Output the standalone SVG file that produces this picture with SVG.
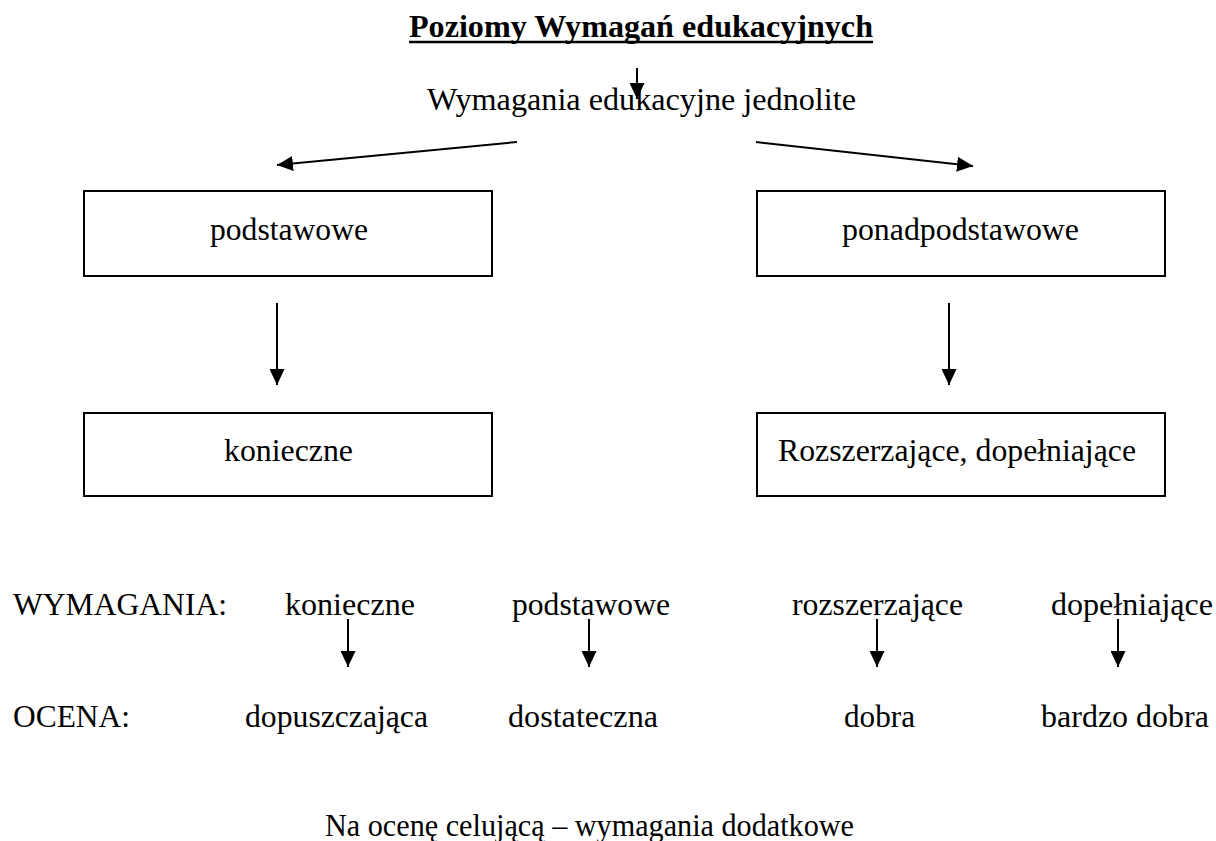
<svg xmlns="http://www.w3.org/2000/svg" width="1216" height="841" viewBox="0 0 1216 841">
<defs>
<style>
text{font-family:"Liberation Serif","Times New Roman",serif;font-size:31px;fill:#000}
.title{font-weight:bold}
.box{fill:#fff;stroke:#000;stroke-width:2}
.conn line{stroke:#000;stroke-width:2;marker-end:url(#ah)}
</style>
<marker id="ah" markerUnits="userSpaceOnUse" markerWidth="16" markerHeight="15" refX="16" refY="7.5" orient="auto" viewBox="0 0 16 15">
<path d="M0,0 L16,7.5 L0,15 z" fill="#000"/>
</marker>
</defs>
<rect width="1216" height="841" fill="#fff"/>
<g id="title">
<text class="title" x="409" y="37" textLength="464" lengthAdjust="spacingAndGlyphs">Poziomy Wymagań edukacyjnych</text>
<line x1="409" y1="42" x2="873" y2="42" stroke="#000" stroke-width="2.5"/>
</g>
<g id="root"><text x="427" y="110" textLength="429" lengthAdjust="spacingAndGlyphs">Wymagania edukacyjne jednolite</text></g>
<g id="podstawowe-box"><rect class="box" x="84" y="191" width="408" height="85"/><text x="210" y="240" textLength="158" lengthAdjust="spacingAndGlyphs">podstawowe</text></g>
<g id="ponadpodstawowe-box"><rect class="box" x="757" y="191" width="408" height="85"/><text x="842" y="240" textLength="237" lengthAdjust="spacingAndGlyphs">ponadpodstawowe</text></g>
<g id="konieczne-box"><rect class="box" x="84" y="413" width="408" height="83"/><text x="224" y="461" textLength="129" lengthAdjust="spacingAndGlyphs">konieczne</text></g>
<g id="rozszerzajace-box"><rect class="box" x="757" y="413" width="408" height="83"/><text x="778" y="461" textLength="358" lengthAdjust="spacingAndGlyphs">Rozszerzające, dopełniające</text></g>
<g id="row-wymagania">
<text x="13" y="615" textLength="214" lengthAdjust="spacingAndGlyphs">WYMAGANIA:</text>
<text x="285" y="615" textLength="130" lengthAdjust="spacingAndGlyphs">konieczne</text>
<text x="512" y="615" textLength="158" lengthAdjust="spacingAndGlyphs">podstawowe</text>
<text x="792" y="615" textLength="171" lengthAdjust="spacingAndGlyphs">rozszerzające</text>
<text x="1051" y="615" textLength="162" lengthAdjust="spacingAndGlyphs">dopełniające</text>
</g>
<g id="row-ocena">
<text x="13" y="727" textLength="117" lengthAdjust="spacingAndGlyphs">OCENA:</text>
<text x="245" y="727" textLength="183" lengthAdjust="spacingAndGlyphs">dopuszczająca</text>
<text x="508" y="727" textLength="150" lengthAdjust="spacingAndGlyphs">dostateczna</text>
<text x="844" y="727" textLength="71" lengthAdjust="spacingAndGlyphs">dobra</text>
<text x="1041" y="727" textLength="168" lengthAdjust="spacingAndGlyphs">bardzo dobra</text>
</g>
<g id="note"><text x="325" y="836" textLength="529" lengthAdjust="spacingAndGlyphs">Na ocenę celującą – wymagania dodatkowe</text></g>
<g id="connectors" class="conn">
<line x1="637" y1="68" x2="637" y2="99"/>
<line x1="517" y1="142" x2="277" y2="165"/>
<line x1="756" y1="142" x2="973" y2="166"/>
<line x1="277" y1="303" x2="277" y2="385"/>
<line x1="949" y1="303" x2="949" y2="385"/>
<line x1="348" y1="619" x2="348" y2="667"/>
<line x1="589" y1="619" x2="589" y2="667"/>
<line x1="877" y1="619" x2="877" y2="667"/>
<line x1="1118" y1="619" x2="1118" y2="667"/>
</g>
</svg>
